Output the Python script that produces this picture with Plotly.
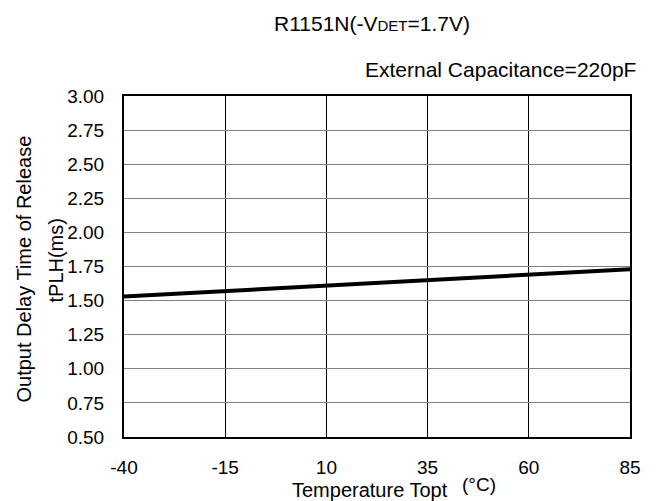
import plotly.graph_objects as go

temps = [-40, -15, 10, 35, 60, 85]
tplh = [1.53, 1.57, 1.61, 1.65, 1.69, 1.73]
x_ticks = [-40, -15, 10, 35, 60, 85]
y_ticks = [0.50, 0.75, 1.00, 1.25, 1.50, 1.75, 2.00, 2.25, 2.50, 2.75, 3.00]

font = "Liberation Sans, Arial, sans-serif"

fig = go.Figure()
fig.add_trace(go.Scatter(x=temps, y=tplh, mode="lines",
                         line=dict(color="black", width=4), showlegend=False))

fig.update_layout(
    width=651, height=493,
    margin=dict(l=116, r=29, t=88, b=64),
    paper_bgcolor="white", plot_bgcolor="white",
    font=dict(family=font, size=19, color="black"),
    xaxis=dict(range=[-40, 85], tickvals=x_ticks, ticktext=[str(v) for v in x_ticks],
               showgrid=True, gridcolor="black", gridwidth=1,
               showline=True, linecolor="black", linewidth=2, mirror=True,
               ticks="", ticklabelstandoff=12, zeroline=False, tickfont=dict(size=19)),
    yaxis=dict(range=[0.5, 3.0], tickvals=y_ticks, ticktext=[f"{v:.2f}" for v in y_ticks],
               showgrid=True, gridcolor="#808080", gridwidth=1,
               showline=True, linecolor="black", linewidth=2, mirror=True,
               ticks="", ticklabelstandoff=14, zeroline=False, tickfont=dict(size=19)),
    annotations=[
        dict(text="R1151N(-V<span style='font-size:15px'>DET</span>=1.7V)",
             x=0, y=1, xref="paper", yref="paper", xanchor="center", yanchor="middle",
             xshift=248, yshift=73, showarrow=False, font=dict(size=21)),
        dict(text="External Capacitance=220pF", x=1.0, y=1.0, xref="paper", yref="paper",
             xanchor="right", yanchor="middle", xshift=8, yshift=27, showarrow=False,
             font=dict(size=21)),
        dict(text="Output Delay Time of Release", x=0, y=0.5, xref="paper", yref="paper",
             textangle=-90, xanchor="center", yanchor="middle", xshift=-101, yshift=-3,
             showarrow=False, font=dict(size=20)),
        dict(text="tPLH(ms)", x=0, y=0.5, xref="paper", yref="paper",
             textangle=-90, xanchor="center", yanchor="middle", xshift=-69, yshift=6,
             showarrow=False, font=dict(size=20)),
        dict(text="Temperature Topt", x=0, y=0, xref="paper", yref="paper",
             xanchor="center", yanchor="middle", xshift=246, yshift=-53, showarrow=False,
             font=dict(size=20)),
        dict(text="(°C)", x=0, y=0, xref="paper", yref="paper",
             xanchor="center", yanchor="middle", xshift=355, yshift=-47, showarrow=False,
             font=dict(size=19)),
    ],
)

fig.write_html("out.html")
